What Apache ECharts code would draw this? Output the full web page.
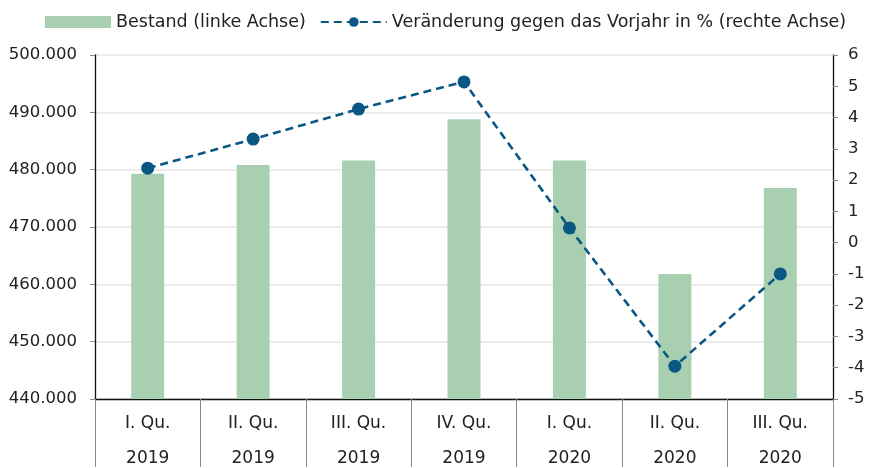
<!DOCTYPE html>
<html><head><meta charset="utf-8">
<script src="https://cdn.jsdelivr.net/npm/echarts@6/dist/echarts.min.js"></script>
<style>html,body{margin:0;padding:0;background:#fff}#c{width:875px;height:468px}</style>
</head><body><div id="c"></div>
<script>
const categories = ['I. Qu.\n2019','II. Qu.\n2019','III. Qu.\n2019','IV. Qu.\n2019','I. Qu.\n2020','II. Qu.\n2020','III. Qu.\n2020'];
const bestand = [479300, 480800, 481600, 488800, 481600, 461800, 476800];
const veraenderung = [2.38, 3.31, 4.27, 5.14, 0.47, -3.95, -1.0];
const barName = 'Bestand (linke Achse)';
const lineName = 'Veränderung gegen das Vorjahr in % (rechte Achse)';
const FONT = 'DejaVu Sans';
const chart = echarts.init(document.getElementById('c'));
chart.setOption({
  animation: false,
  textStyle: {fontFamily: FONT},
  legend: {
    top: 8, left: 40, itemGap: 14, itemWidth: 66, itemHeight: 12,
    textStyle: {fontSize: 17.5, color: '#222', fontFamily: FONT},
    data: [{name: barName, icon: 'rect'}, {name: lineName}]
  },
  grid: {left: 95, right: 42, top: 55, bottom: 69, outerBoundsMode: 'none', containLabel: false},
  xAxis: {
    type: 'category', data: categories,
    axisLine: {onZero: false, lineStyle: {color: '#111', width: 1.3}},
    axisTick: {show: true, interval: 0, length: 68, lineStyle: {color: '#888'}},
    axisLabel: {interval: 0, fontSize: 17, color: '#222', lineHeight: 35, margin: 7, fontFamily: FONT}
  },
  yAxis: [
    {type: 'value', min: 440000, max: 500000, interval: 10000,
     axisLine: {show: true, lineStyle: {color: '#111', width: 1.3}},
     axisTick: {show: true, length: 5, lineStyle: {color: '#888'}},
     splitLine: {lineStyle: {color: '#ececec', width: 2}},
     axisLabel: {fontSize: 16.5, color: '#222', margin: 18, fontFamily: FONT,
       formatter: v => (v/1000).toFixed(3)}},
    {type: 'value', min: -5, max: 6, interval: 1,
     axisLine: {show: true, lineStyle: {color: '#111', width: 1.3}},
     axisTick: {show: true, length: 5, lineStyle: {color: '#888'}},
     splitLine: {show: false},
     axisLabel: {fontSize: 16.5, color: '#222', margin: 15, fontFamily: FONT}}
  ],
  series: [
    {name: barName, type: 'bar', data: bestand, barWidth: 33, yAxisIndex: 0,
     itemStyle: {color: '#a8d0b0'}},
    {name: lineName, type: 'line', data: veraenderung, yAxisIndex: 1,
     symbol: 'circle', symbolSize: 13,
     itemStyle: {color: '#0a5784'},
     lineStyle: {color: '#0a5784', width: 2.6, type: [8, 5]}}
  ]
});
</script></body></html>
